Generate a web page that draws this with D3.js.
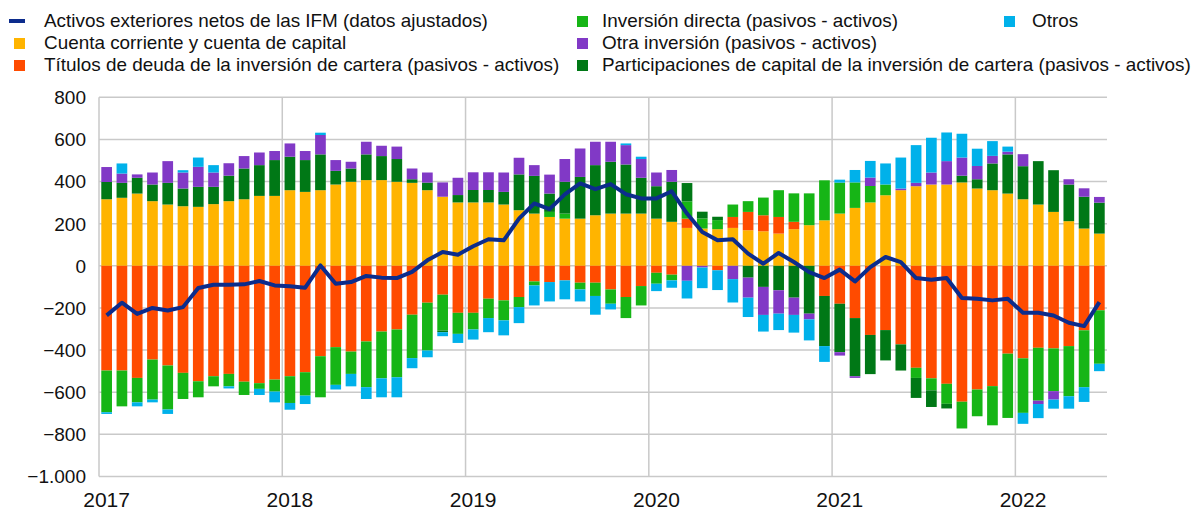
<!DOCTYPE html>
<html lang="es">
<head>
<meta charset="utf-8">
<title>Activos exteriores netos de las IFM</title>
<script src="https://d3js.org/d3.v7.min.js"></script>
<style>
  body { margin: 0; background: #fff; }
  svg { display: block; font-family: "Liberation Sans", Arial, sans-serif; }
</style>
</head>
<body>
<div id="chart"></div>
<script>
// years shown on the axis, one bar per month from Jan 2017 to Jun 2022
const years = [2017, 2018, 2019, 2020, 2021, 2022];
const nMonths = 66;

// series values (EUR bn)
const cuentaCorriente = [316,323,343,307,291,283,280,293,307,316,332,332,
  359,351,359,386,399,407,407,399,394,359,328,301,
  301,301,291,264,248,232,224,224,240,248,248,248,
  224,209,180,177,174,180,169,164,153,174,193,216,
  248,275,301,335,359,378,386,386,396,367,359,343,
  316,291,256,212,177,153];
const titulosDeuda = [-497,-497,-532,-445,-473,-508,-548,-524,-513,-550,-557,-540,
  -524,-505,-429,-386,-407,-359,-312,-302,-232,-175,-137,-223,
  -223,-156,-164,-148,-74,-77,-69,-80,-80,-112,-148,-96,
  -33,-42,44,0,-21,52,87,76,79,35,0,-143,
  -180,-248,-328,-305,-373,-484,-534,-560,-645,-587,-571,-417,
  -439,-389,-392,-381,-306,-211];
const inversionDirecta = [-198,-170,-116,-190,-209,-124,-76,-48,-59,-63,-27,-57,
  -127,-111,-195,-179,-106,-217,-222,-227,-206,-227,-170,-100,
  -79,-92,-95,-48,-19,24,24,-32,-63,-68,-100,-92,
  -52,-27,82,48,43,59,51,84,127,135,151,190,
  147,121,78,51,0,-48,-57,-95,-127,-127,-186,-305,
  -259,-251,-203,-238,-270,-254];
const participaciones = [82,71,75,79,103,84,95,82,121,146,146,170,
  159,151,170,65,63,122,114,108,17,36,-8,35,
  59,59,60,170,179,87,151,198,238,246,233,170,
  154,190,87,32,16,0,-56,-100,-116,-151,-227,-238,
  -230,-276,-186,-144,-124,-95,-79,-22,32,44,127,186,
  157,206,198,174,151,147];
const otraInversion = [71,44,16,57,103,76,95,68,59,59,60,43,
  63,43,92,51,32,60,49,59,51,48,68,82,
  84,84,92,79,51,90,108,135,111,95,92,89,
  65,56,-71,-8,0,-63,-95,-133,-111,-82,-27,0,
  -16,-8,40,0,8,16,57,111,86,63,36,13,
  57,-16,-40,25,40,27];
const otros = [-8,48,-19,-13,-21,11,44,35,-10,0,-29,-51,
  -32,-40,11,-22,-59,-56,-90,-95,-48,-32,-19,-43,
  -48,-67,-71,-76,-95,-92,-90,-57,-89,-27,8,11,
  -35,-35,-84,-98,-94,-111,-92,-79,-78,-84,-100,-75,
  14,59,79,100,147,179,165,136,113,82,70,24,
  -52,-67,-43,-59,-70,-35];
const activosIFM = [-235,-175,-228,-200,-212,-196,-105,-90,-90,-88,-72,-93,
  -97,-104,2,-85,-77,-48,-56,-58,-29,26,66,53,
  93,126,121,224,296,269,339,391,364,388,340,320,
  320,354,248,161,121,126,58,10,61,18,-30,-58,
  -18,-74,-6,42,18,-58,-66,-58,-153,-156,-164,-156,
  -223,-223,-236,-270,-286,-172];
const yTicks = [800,600,400,200,0,-200,-400,-600,-800,-1000];

const seriesKeys = ["ca","deuda","directa","participaciones","otra","otros"];
const colors = {
  ca: "#ffb400", deuda: "#ff4b00", directa: "#16b516",
  participaciones: "#007816", otra: "#8139c6", otros: "#00b1ea"
};
const lineColor = "#0c2c8c";

const months = d3.range(nMonths);
const table = months.map(i => ({
  m: i,
  ca: cuentaCorriente[i], deuda: titulosDeuda[i], directa: inversionDirecta[i],
  participaciones: participaciones[i], otra: otraInversion[i], otros: otros[i]
}));

const W = 1192, H = 513;
const plot = {left: 99, right: 1107, top: 97.3, bottom: 476.5};

const svg = d3.select("#chart").append("svg")
  .attr("width", W).attr("height", H);

const x = d3.scaleBand()
  .domain(months)
  .range([plot.left, plot.right])
  .paddingInner(0.3)
  .paddingOuter(0.15);

const y = d3.scaleLinear()
  .domain([-1000, 800])
  .range([plot.bottom, plot.top]);

// grid
svg.append("g")
  .selectAll("line")
  .data(yTicks)
  .join("line")
    .attr("x1", plot.left).attr("x2", plot.right)
    .attr("y1", d => y(d)).attr("y2", d => y(d))
    .attr("stroke", "#c9c9c9").attr("stroke-width", 1.5);

const yearStart = years.map((yr, k) => k * 12);
svg.append("g")
  .selectAll("line")
  .data(yearStart)
  .join("line")
    .attr("x1", d => x(d) - x.step() * 0.15).attr("x2", d => x(d) - x.step() * 0.15)
    .attr("y1", plot.top).attr("y2", plot.bottom)
    .attr("stroke", "#c9c9c9").attr("stroke-width", 1.5);

// y labels
svg.append("g")
  .selectAll("text")
  .data(yTicks)
  .join("text")
    .attr("x", 86)
    .attr("y", d => y(d))
    .attr("dy", "0.36em")
    .attr("text-anchor", "end")
    .style("font-size", "19px")
    .attr("fill", "#111")
    .text(d => d3.format(",")(d).replace(",", "."));

// x labels, centred on the January bar
svg.append("g")
  .selectAll("text")
  .data(years)
  .join("text")
    .attr("x", (d, k) => x(k * 12) + x.bandwidth() / 2)
    .attr("y", 507)
    .attr("text-anchor", "middle")
    .style("font-size", "21px")
    .attr("fill", "#111")
    .text(d => d);

// stacked bars
const stacked = d3.stack()
  .keys(seriesKeys)
  .offset(d3.stackOffsetDiverging)(table);

svg.append("g")
  .selectAll("g")
  .data(stacked)
  .join("g")
    .attr("fill", d => colors[d.key])
  .selectAll("rect")
  .data(d => d)
  .join("rect")
    .attr("x", d => x(d.data.m))
    .attr("width", x.bandwidth())
    .attr("y", d => y(Math.max(d[0], d[1])))
    .attr("height", d => Math.abs(y(d[0]) - y(d[1])));

// line
const line = d3.line()
  .x((d, i) => x(i) + x.bandwidth() / 2)
  .y(d => y(d));

svg.append("path")
  .datum(activosIFM)
  .attr("fill", "none")
  .attr("stroke", lineColor)
  .attr("stroke-width", 4)
  .attr("stroke-linejoin", "round")
  .attr("d", line);

// legend
const legendItems = [
  {label: "Activos exteriores netos de las IFM (datos ajustados)", color: lineColor, type: "line", x: 9, y: 21, tx: 44},
  {label: "Cuenta corriente y cuenta de capital", color: colors.ca, x: 14, y: 43, tx: 44},
  {label: "Títulos de deuda de la inversión de cartera (pasivos - activos)", color: colors.deuda, x: 14, y: 65, tx: 44},
  {label: "Inversión directa (pasivos - activos)", color: colors.directa, x: 577, y: 21, tx: 602},
  {label: "Otra inversión (pasivos - activos)", color: colors.otra, x: 577, y: 43, tx: 602},
  {label: "Participaciones de capital de la inversión de cartera (pasivos - activos)", color: colors.participaciones, x: 577, y: 65, tx: 602},
  {label: "Otros", color: colors.otros, x: 1004, y: 21, tx: 1032}
];

const lg = svg.append("g")
  .selectAll("g")
  .data(legendItems)
  .join("g");

lg.append("rect")
  .attr("x", d => d.x)
  .attr("y", d => d.type === "line" ? d.y - 2 : d.y - 5)
  .attr("width", d => d.type === "line" ? 16 : 11)
  .attr("height", d => d.type === "line" ? 4 : 11)
  .attr("fill", d => d.color);

// the source chart is slightly stretched sideways
lg.append("text")
  .attr("transform", d => `translate(${d.tx},${d.y}) scale(1.05,1)`)
  .attr("dy", "0.36em")
  .style("font-size", "18px")
  .attr("fill", "#111")
  .text(d => d.label);
</script>
</body>
</html>
